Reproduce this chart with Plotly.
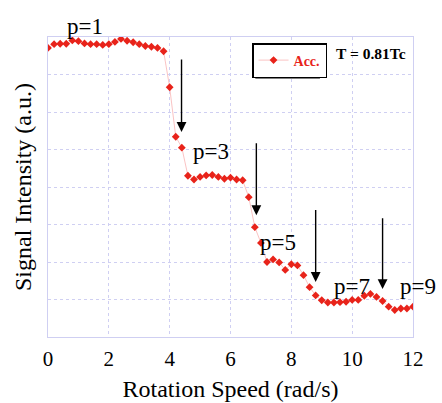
import plotly.graph_objects as go

speed = [round(0.2 * i, 1) for i in range(61)]
signal = [7.71, 7.81, 7.82, 7.82, 7.91, 7.89, 7.83, 7.81, 7.81, 7.79,
          7.81, 7.87, 7.95, 7.90, 7.86, 7.81, 7.76, 7.74, 7.71, 7.62,
          6.66, 5.34, 5.05, 4.30, 4.20, 4.27, 4.31, 4.32, 4.27, 4.22,
          4.25, 4.20,
          4.18, 3.73, 2.93, 2.51, 2.00, 2.07, 1.99,
          1.79, 1.94, 1.91, 1.65, 1.33, 1.11, 0.98, 0.92, 0.92, 0.93,
          0.94, 0.99, 0.99, 1.10, 1.15, 1.07, 0.96, 0.81, 0.72, 0.76,
          0.76, 0.81]

x_ticks = [0, 2, 4, 6, 8, 10, 12]
X_RANGE = [0, 12]
Y_RANGE = [0, 8]

labels = ["p=1", "p=3", "p=5", "p=7", "p=9"]
label_x = [1.2, 5.36, 7.55, 10.0, 12.17]
label_y = [8.29, 4.96, 2.53, 1.36, 1.36]

arrow_x = [4.39, 6.85, 8.8, 11.0]
arrow_top = [7.44, 5.21, 3.43, 3.21]
arrow_tip = [5.47, 3.25, 1.47, 1.28]

SERIF = "Liberation Serif"
GRID = "#cfcff2"


def px(v):
    return (v - X_RANGE[0]) / (X_RANGE[1] - X_RANGE[0])


def py(v):
    return (v - Y_RANGE[0]) / (Y_RANGE[1] - Y_RANGE[0])


fig = go.Figure()
fig.add_trace(go.Scatter(
    x=speed, y=signal, mode="lines+markers", name="<b>Acc.</b>",
    line=dict(color="#f9b4b4", width=0.8),
    marker=dict(symbol="diamond", size=6, color="#e8231a"),
))

for t, lx, ly in zip(labels, label_x, label_y):
    fig.add_annotation(x=px(lx), y=py(ly), xref="paper", yref="paper",
                       xanchor="center", yanchor="middle",
                       text=t, showarrow=False,
                       font=dict(family=SERIF, size=23, color="black"))

for ax_, yt, yp in zip(arrow_x, arrow_top, arrow_tip):
    fig.add_annotation(x=ax_, y=yp, ax=ax_, ay=yt, axref="x", ayref="y",
                       text="", showarrow=True, arrowhead=2, arrowsize=1.4,
                       arrowwidth=1.4, arrowcolor="black")

fig.add_annotation(x=10.63, y=7.55, text="<b>T = 0.81Tc</b>", showarrow=False,
                   font=dict(family=SERIF, size=15.5, color="black"))

# legend drop shadow
fig.add_shape(type="rect", xref="paper", yref="paper",
              x0=0.568, x1=0.745, y0=0.862, y1=0.965,
              fillcolor="black", line=dict(width=0), layer="above")

fig.update_layout(
    width=442, height=403,
    margin=dict(l=48, r=29, t=37, b=66),
    paper_bgcolor="white", plot_bgcolor="white",
    showlegend=True,
    legend=dict(x=0.559, y=0.98, xanchor="left", yanchor="top",
                bgcolor="white", bordercolor="black", borderwidth=1.5,
                itemwidth=30,
                font=dict(family=SERIF, size=14, color="#e8231a")),
    xaxis=dict(range=X_RANGE, tickvals=x_ticks, ticks="", automargin=False,
               showgrid=True, gridcolor=GRID, griddash="dot", gridwidth=1,
               showline=True, linecolor=GRID, mirror=True, zeroline=False,
               tickfont=dict(family=SERIF, size=21, color="black"),
               ticklabelstandoff=3,
               title=dict(text="Rotation Speed (rad/s)", standoff=9,
                          font=dict(family=SERIF, size=24, color="black"))),
    yaxis=dict(range=Y_RANGE, dtick=1, showticklabels=False, ticks="",
               automargin=False,
               showgrid=True, gridcolor=GRID, griddash="dot", gridwidth=1,
               showline=True, linecolor=GRID, mirror=True, zeroline=False,
               title=dict(text="Signal Intensity (a.u.)", standoff=8,
                          font=dict(family=SERIF, size=24, color="black"))),
)

fig.write_html("out.html")
